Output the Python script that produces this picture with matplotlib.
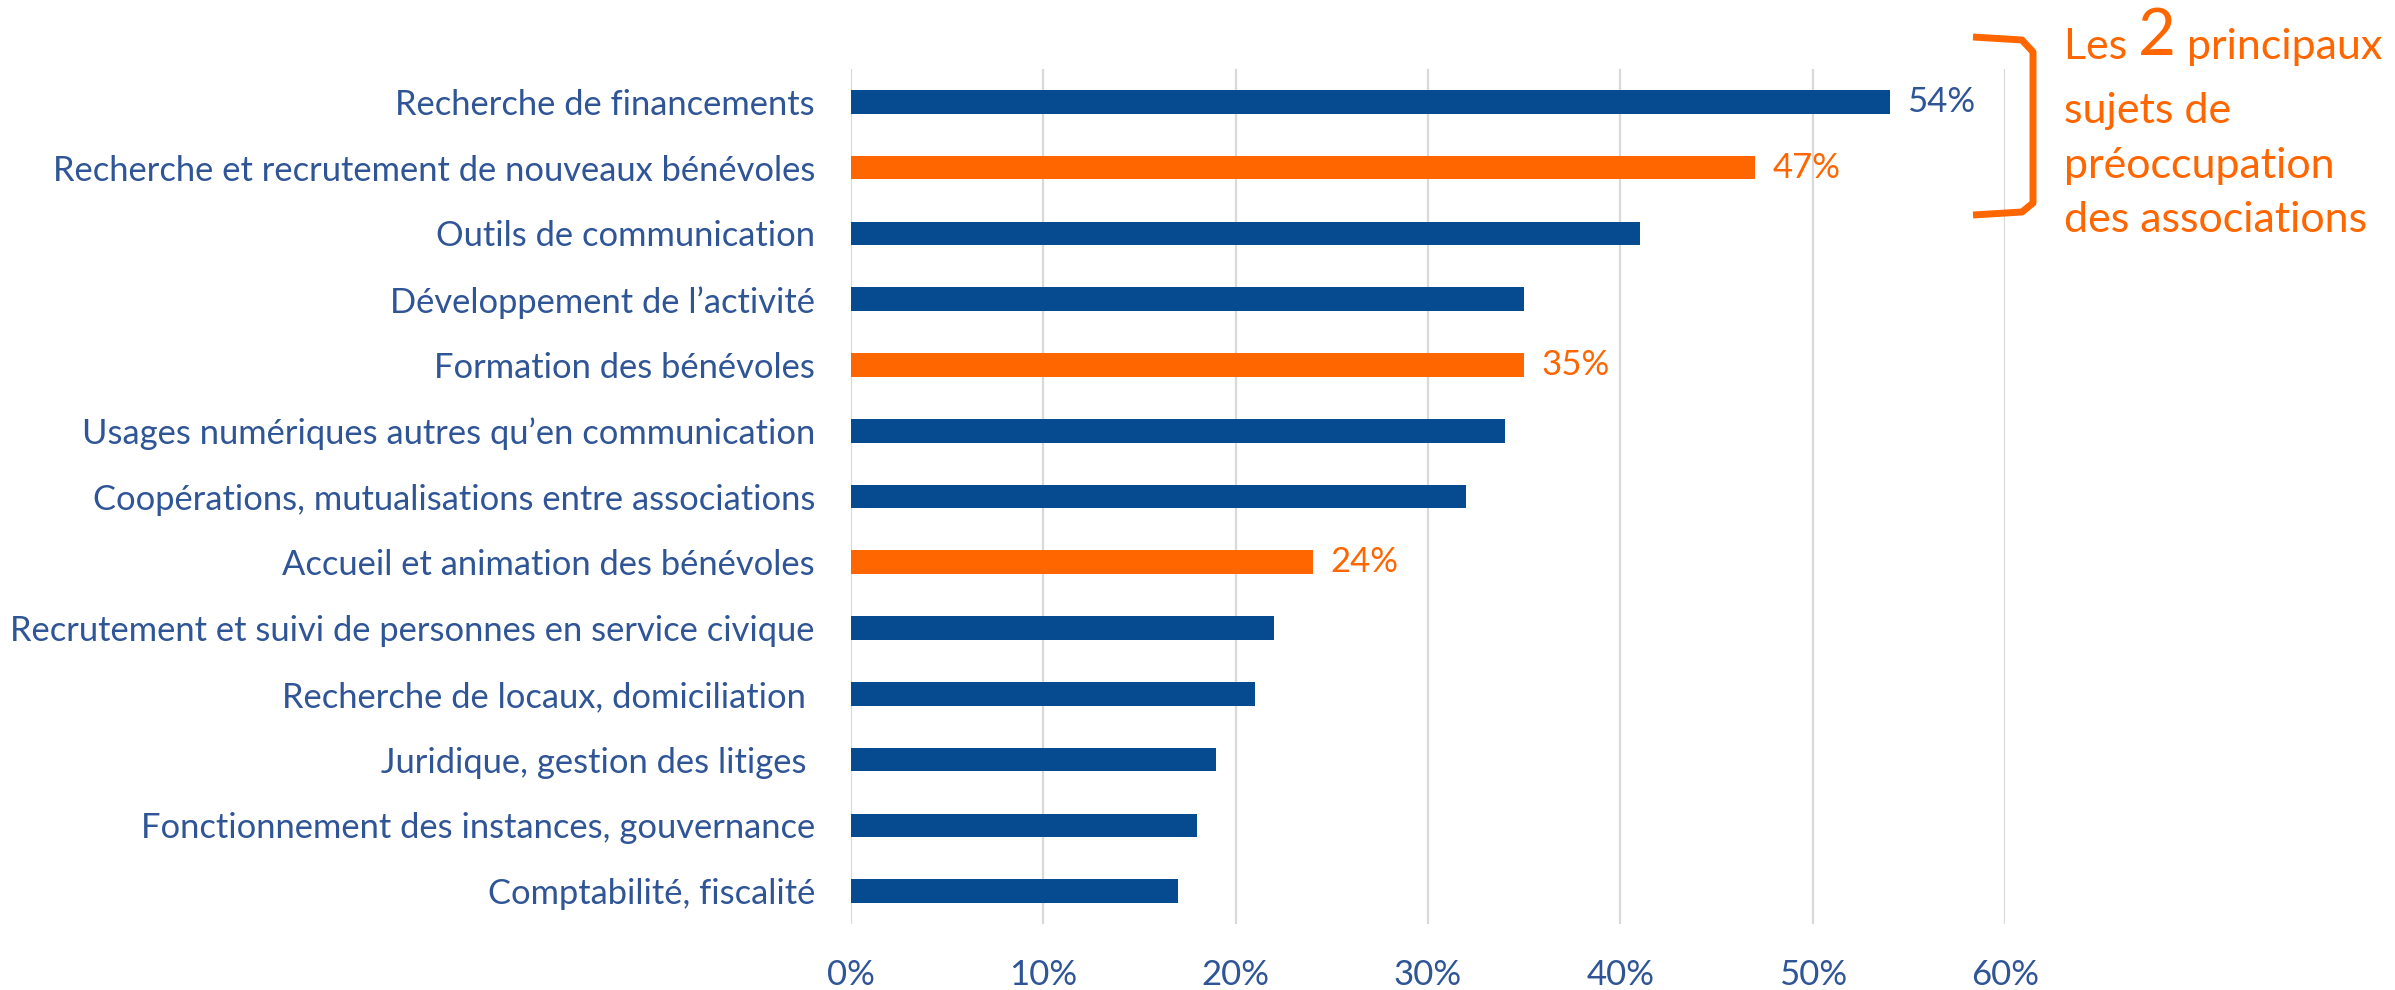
import matplotlib.pyplot as plt
from matplotlib.lines import Line2D

plt.rcParams['font.family'] = ['Lato', 'DejaVu Sans']

categories = [
    'Recherche de financements',
    'Recherche et recrutement de nouveaux bénévoles',
    'Outils de communication',
    'Développement de l’activité',
    'Formation des bénévoles',
    'Usages numériques autres qu’en communication',
    'Coopérations, mutualisations entre associations',
    'Accueil et animation des bénévoles',
    'Recrutement et suivi de personnes en service civique',
    'Recherche de locaux, domiciliation ',
    'Juridique, gestion des litiges ',
    'Fonctionnement des instances, gouvernance',
    'Comptabilité, fiscalité',
]
values = [0.54, 0.47, 0.41, 0.35, 0.35, 0.34, 0.32, 0.24, 0.22, 0.21, 0.19, 0.18, 0.17]
highlight = [False, True, False, False, True, False, False, True, False, False, False, False, False]
labelled = [True, True, False, False, True, False, False, True, False, False, False, False, False]
xticks = [0, 0.1, 0.2, 0.3, 0.4, 0.5, 0.6]

blue = '#064A8F'
orange = '#FF6600'
text_blue = '#2F5597'

W, H = 2395, 990
fig = plt.figure(figsize=(W / 100, H / 100), dpi=100)
ax = fig.add_axes([851 / W, 1 - 924 / H, (2005 - 851) / W, (924 - 69) / H])

ypos = list(range(len(categories)))
colors = [orange if h else blue for h in highlight]
ax.barh(ypos, values, height=0.36, color=colors, zorder=3)

for y, v, h, lab in zip(ypos, values, highlight, labelled):
    if lab:
        ax.text(v + 0.009, y, f'{v * 100:.0f}%', va='center', ha='left',
                fontsize=25, color=orange if h else text_blue)

ax.set_xlim(0, 0.6)
ax.set_ylim(len(categories) - 0.5, -0.5)
ax.set_xticks(xticks)
ax.set_xticklabels([f'{t * 100:.0f}%' for t in xticks])
ax.set_yticks(ypos)
ax.set_yticklabels(categories)
ax.tick_params(axis='x', length=0, pad=25, labelsize=25, labelcolor=text_blue)
ax.tick_params(axis='y', length=0, pad=26, labelsize=24.8, labelcolor=text_blue)
ax.grid(axis='x', color='#D9D9D9', linewidth=1.6, zorder=0)
for s in ax.spines.values():
    s.set_visible(False)

# bracket around the two top bars
bx = [1973, 2022, 2033, 2033, 2022, 1973]
by = [37, 40, 52, 203, 212, 215]
fig.add_artist(Line2D([x / W for x in bx], [1 - y / H for y in by],
                      transform=fig.transFigure, color=orange, linewidth=5,
                      solid_joinstyle='round', solid_capstyle='butt'))

tx = 2064 / W
t1 = fig.text(tx, 1 - 59 / H, 'Les ', fontsize=31, color=orange, va='baseline')
t2 = ax.annotate('2', xy=(1, 0), xycoords=t1, fontsize=47, color=orange,
                 va='bottom', annotation_clip=False)
ax.annotate(' principaux', xy=(1, 0), xycoords=t2, fontsize=31, color=orange,
            va='bottom', annotation_clip=False)
fig.text(tx, 1 - 123 / H, 'sujets de', fontsize=31, color=orange, va='baseline')
fig.text(tx, 1 - 178 / H, 'préoccupation', fontsize=31, color=orange, va='baseline')
fig.text(tx, 1 - 232 / H, 'des associations', fontsize=31, color=orange, va='baseline')

fig.savefig('out.png', dpi=100)
